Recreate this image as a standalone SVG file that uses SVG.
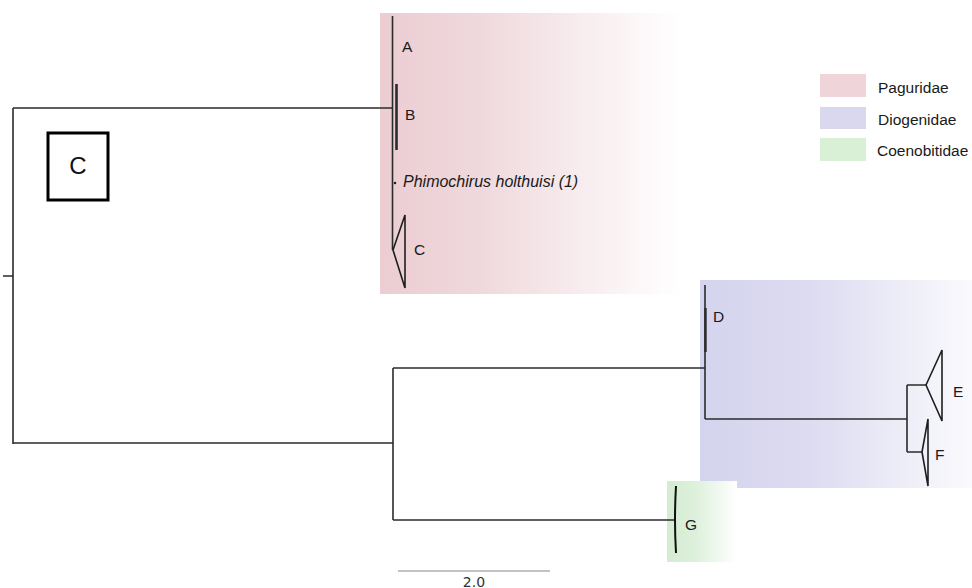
<svg xmlns="http://www.w3.org/2000/svg" width="972" height="588" viewBox="0 0 972 588">
<defs>
<linearGradient id="gPink" x1="0" y1="0" x2="1" y2="0">
<stop offset="0" stop-color="#ebcdd2"/><stop offset="0.3" stop-color="#efd7db"/><stop offset="1" stop-color="#ffffff"/>
</linearGradient>
<linearGradient id="gBlue" x1="0" y1="0" x2="1" y2="0">
<stop offset="0" stop-color="#d5d4ee"/><stop offset="0.4" stop-color="#dcdbf1"/><stop offset="1" stop-color="#fafafd"/>
</linearGradient>
<linearGradient id="gGreen" x1="0" y1="0" x2="1" y2="0">
<stop offset="0" stop-color="#d4ecd2"/><stop offset="0.4" stop-color="#ddf0db"/><stop offset="1" stop-color="#ffffff"/>
</linearGradient>
<style>
.br{fill:none;stroke:#2b2b2b;stroke-width:1.6}
.tri{fill:none;stroke:#1e1e1e;stroke-width:1.6;stroke-linejoin:miter}
.lab{font-family:"Liberation Sans",Arial,sans-serif;font-size:15.5px;fill:#1a1a1a}
.leg{font-family:"Liberation Sans",Arial,sans-serif;font-size:15.5px;fill:#1a1a1a}
.it{font-style:italic;font-size:16px}
</style>
</defs>
<rect width="972" height="588" fill="#ffffff"/>
<g id="clades">
<rect x="380" y="13" width="300" height="281" fill="url(#gPink)"/>
<rect x="700" y="280" width="272" height="208" fill="url(#gBlue)"/>
<rect x="667" y="481" width="70" height="81" fill="url(#gGreen)"/>
</g>
<g id="connectors">
<path class="br" d="M3 276H13M13 108V444M13 108H393M13 443H393M393 368V520M393 368H705M393 520H676"/>
<path class="br" d="M392.5 16V250"/>
<path class="br" d="M705 285V419M705 419H907M907 385V452M907 385H926M907 452H922"/>
</g>
<g id="A"><text class="lab" x="402" y="52">A</text></g>
<g id="B"><path d="M396.5 84V150" stroke="#2b2b2b" stroke-width="2.6"/><text class="lab" x="405" y="120">B</text></g>
<g id="Phimochirus"><circle cx="395" cy="183" r="1.3" fill="#222"/><text class="lab it" x="403" y="187">Phimochirus holthuisi (1)</text></g>
<g id="C"><path class="tri" d="M393 250L405 215V288Z"/><text class="lab" x="414" y="255">C</text></g>
<g id="D"><path d="M705.5 308V352" stroke="#2b2b2b" stroke-width="2.4"/><text class="lab" x="713" y="322">D</text></g>
<g id="E"><path class="tri" d="M926 385L942 350V421Z"/><text class="lab" x="953" y="397">E</text></g>
<g id="F"><path class="tri" d="M922 452L928 419V486Z"/><text class="lab" x="935" y="460">F</text></g>
<g id="G"><path d="M676 486Q674 520 676 553" fill="none" stroke="#111" stroke-width="2"/><text class="lab" x="685" y="530">G</text></g>
<g id="boxC"><rect x="48" y="133" width="60" height="67" fill="#fff" stroke="#000" stroke-width="3"/><text x="78" y="174" text-anchor="middle" font-family="Liberation Sans,Arial,sans-serif" font-size="24" fill="#111">C</text></g>
<g id="legend">
<rect x="820" y="74" width="46" height="23" fill="#efd5d9"/><text class="leg" x="878" y="93">Paguridae</text>
<rect x="820" y="107" width="46" height="22" fill="#d9d8ef"/><text class="leg" x="878" y="125">Diogenidae</text>
<rect x="820" y="138" width="46" height="23" fill="#d9efd6"/><text class="leg" x="877" y="156">Coenobitidae</text>
</g>
<g id="scale"><path d="M398 571H550" stroke="#888" stroke-width="1.2"/><text x="474" y="587" text-anchor="middle" font-family="DejaVu Sans,sans-serif" font-size="14" fill="#333">2.0</text></g>
</svg>
